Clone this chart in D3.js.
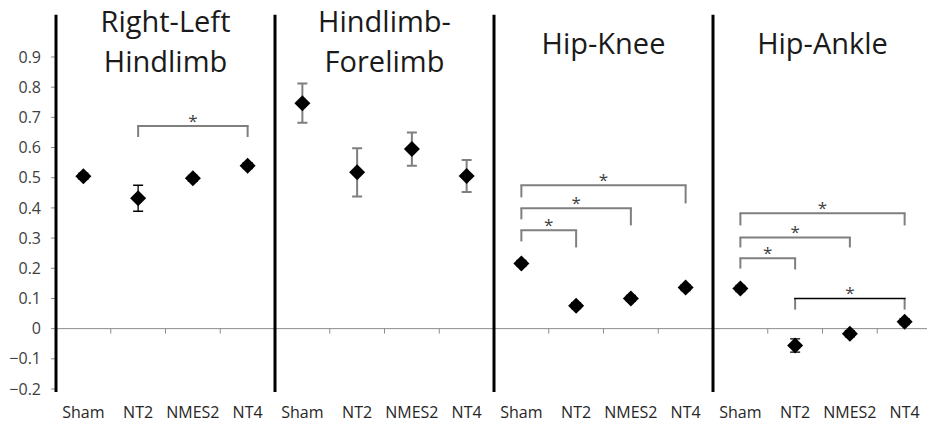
<!DOCTYPE html>
<meta charset="utf-8">
<style>

body {
  margin: 0;
  background: #fff;
}

text {
  font-family: "Open Sans", sans-serif;
}

.ytick text {
  font-size: 16px;
  fill: #404040;
}

.xlabel {
  font-size: 16px;
  fill: #262626;
}

.title {
  font-size: 29px;
  fill: #1a1a1a;
}

.star {
  font-size: 17px;
  fill: #404040;
}

</style>
<svg width="927" height="426"></svg>
<script src="https://d3js.org/d3.v7.min.js"></script>
<script>

var categories = ["Sham", "NT2", "NMES2", "NT4"];

var titles = [
  ["Right-Left", "Hindlimb"],
  ["Hindlimb-", "Forelimb"],
  ["Hip-Knee"],
  ["Hip-Ankle"]
];

// mean values, one array per panel
var rightLeft = [0.505, 0.432, 0.498, 0.540];
var hindFore  = [0.747, 0.518, 0.595, 0.506];
var hipKnee   = [0.216, 0.076, 0.100, 0.136];
var hipAnkle  = [0.133, -0.056, -0.017, 0.023];

// error bar half-widths
var rightLeftErr = [0.010, 0.043, 0.010, 0.010];
var hindForeErr  = [0.065, 0.080, 0.055, 0.053];
var hipKneeErr   = [0.010, 0.010, 0.010, 0.010];
var hipAnkleErr  = [0.010, 0.022, 0.010, 0.010];

var yTicks = [0.9, 0.8, 0.7, 0.6, 0.5, 0.4, 0.3, 0.2, 0.1, 0, -0.1, -0.2];

// significance brackets: panel, from, to, top, left end, right end
var brackets = [
  [0, "NT2", "NT4", 0.671, 0.635, 0.635],
  [2, "Sham", "NT2", 0.326, 0.289, 0.269],
  [2, "Sham", "NMES2", 0.399, 0.362, 0.342],
  [2, "Sham", "NT4", 0.475, 0.435, 0.415],
  [3, "Sham", "NT2", 0.233, 0.199, 0.196],
  [3, "Sham", "NMES2", 0.302, 0.269, 0.269],
  [3, "Sham", "NT4", 0.382, 0.342, 0.342],
  [3, "NT2", "NT4", 0.100, 0.063, 0.063]
];

var means = [rightLeft, hindFore, hipKnee, hipAnkle];
var errs = [rightLeftErr, hindForeErr, hipKneeErr, hipAnkleErr];

var svg = d3.select("svg");

var keys = [];
titles.forEach(function(t, p) {
  categories.forEach(function(c) { keys.push(p + ":" + c); });
});

var x = d3.scaleBand()
    .domain(keys)
    .range([56, 932]);

var y = d3.scaleLinear()
    .domain([-0.2, 0.9])
    .range([389, 57]);

function cx(p, c) { return x(p + ":" + c) + x.bandwidth() / 2; }

// y axis ticks and labels
var yt = svg.append("g").attr("class", "ytick");
yt.selectAll("line")
  .data(yTicks)
  .enter().append("line")
    .attr("x1", 51).attr("x2", 56)
    .attr("y1", function(d) { return y(d); })
    .attr("y2", function(d) { return y(d); })
    .attr("stroke", "#8c8c8c");
yt.selectAll("text")
  .data(yTicks)
  .enter().append("text")
    .attr("x", 41)
    .attr("y", function(d) { return y(d); })
    .attr("dy", "0.35em")
    .attr("text-anchor", "end")
    .text(function(d) { return d === 0 ? "0" : d3.format(".1f")(d); });

// zero line with category ticks
svg.append("line")
    .attr("x1", 56).attr("x2", 927)
    .attr("y1", y(0)).attr("y2", y(0))
    .attr("stroke", "#8c8c8c");

svg.append("g").selectAll("line")
  .data(keys)
  .enter().append("line")
    .attr("x1", function(d) { return x(d); })
    .attr("x2", function(d) { return x(d); })
    .attr("y1", y(0)).attr("y2", y(0) + 5)
    .attr("stroke", "#8c8c8c");

// panel separators
svg.append("g").selectAll("line")
  .data(titles)
  .enter().append("line")
    .attr("x1", function(d, p) { return x(p + ":Sham"); })
    .attr("x2", function(d, p) { return x(p + ":Sham"); })
    .attr("y1", y(1.04)).attr("y2", y(-0.21))
    .attr("stroke", "#000")
    .attr("stroke-width", 3);

// titles
titles.forEach(function(lines, p) {
  var mid = x(p + ":Sham") + x.bandwidth() * 2;
  var t = svg.append("text")
      .attr("class", "title")
      .attr("text-anchor", "middle");
  if (lines.length === 2) {
    t.append("tspan").attr("x", mid).attr("y", 32).text(lines[0]);
    t.append("tspan").attr("x", mid).attr("y", 72).text(lines[1]);
  } else {
    t.attr("x", mid).attr("y", 54).text(lines[0]);
  }
});

// x labels
svg.append("g").selectAll("text")
  .data(keys)
  .enter().append("text")
    .attr("class", "xlabel")
    .attr("x", function(d) { return x(d) + x.bandwidth() / 2; })
    .attr("y", 418)
    .attr("text-anchor", "middle")
    .text(function(d) { return d.split(":")[1]; });

// brackets
brackets.forEach(function(b) {
  var x0 = cx(b[0], b[1]), x1 = cx(b[0], b[2]);
  var g = svg.append("g");
  g.append("path")
      .attr("d", "M" + x0 + "," + y(b[4]) + "V" + y(b[3]))
      .attr("stroke", "#7f7f7f").attr("stroke-width", 2).attr("fill", "none");
  g.append("path")
      .attr("d", "M" + x1 + "," + y(b[5]) + "V" + y(b[3]))
      .attr("stroke", "#7f7f7f").attr("stroke-width", 2).attr("fill", "none");
  var black = b[0] === 3 && b[1] === "NT2";
  g.append("line")
      .attr("x1", x0 - 1).attr("x2", x1 + 1)
      .attr("y1", y(b[3])).attr("y2", y(b[3]))
      .attr("stroke", black ? "#000" : "#7f7f7f")
      .attr("stroke-width", black ? 1.5 : 2);
  g.append("text")
      .attr("class", "star")
      .attr("x", (x0 + x1) / 2)
      .attr("y", y(b[3]) + 1)
      .attr("text-anchor", "middle")
      .text("*");
});

// error bars and markers
means.forEach(function(vals, p) {
  var col = p === 1 ? "#7f7f7f" : "#000";
  var sw = p === 1 ? 2 : 1.3;
  var g = svg.append("g");
  vals.forEach(function(v, i) {
    var c = cx(p, categories[i]), e = errs[p][i];
    g.append("path")
        .attr("d", "M" + c + "," + y(v - e) + "V" + y(v + e) +
                   "M" + (c - 5) + "," + y(v + e) + "H" + (c + 5) +
                   "M" + (c - 5) + "," + y(v - e) + "H" + (c + 5))
        .attr("stroke", col).attr("stroke-width", sw).attr("fill", "none");
  });
  g.selectAll(".pt")
    .data(vals)
    .enter().append("path")
      .attr("transform", function(d, i) {
        return "translate(" + cx(p, categories[i]) + "," + y(d) + ")";
      })
      .attr("d", "M0,-8L8,0L0,8L-8,0Z")
      .attr("fill", "#000");
});

</script>
